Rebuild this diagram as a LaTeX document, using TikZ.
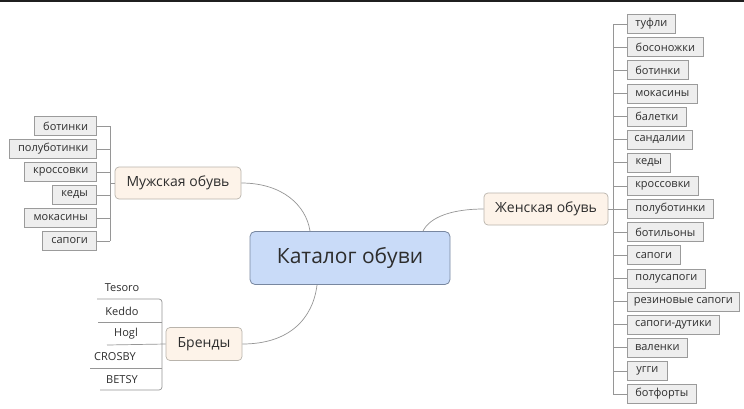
\documentclass[tikz,border=0pt]{standalone}
\usepackage{fontspec}
\setmainfont{Open Sans}
\definecolor{rootfill}{RGB}{201,219,248}
\definecolor{rootdraw}{RGB}{120,135,160}
\definecolor{topicfill}{RGB}{253,243,233}
\definecolor{topicdraw}{RGB}{185,180,172}
\definecolor{leaffill}{RGB}{238,238,238}
\definecolor{leafdraw}{RGB}{155,155,155}
\definecolor{linecol}{RGB}{150,150,150}
\definecolor{txt}{RGB}{45,45,45}
\begin{document}
\begin{tikzpicture}[x=1pt,y=-1pt,
  conn/.style={draw=linecol, line width=0.7pt},
  root/.style={draw=rootdraw, fill=rootfill, rounded corners=5pt, line width=0.8pt, minimum width=200pt, minimum height=53pt, font=\fontsize{21}{24}\selectfont, text=txt},
  topic/.style={draw=topicdraw, fill=topicfill, rounded corners=4pt, line width=0.7pt, minimum height=32pt, font=\fontsize{14}{16}\selectfont, text=txt},
  leaf/.style={draw=leafdraw, fill=leaffill, line width=0.7pt, minimum height=19pt, inner sep=0pt, font=\fontsize{11}{13}\selectfont, text=txt},
  brand/.style={inner sep=0pt, font=\fontsize{11}{13}\selectfont, text=txt}
]
\useasboundingbox (0,0) rectangle (744,408);
\fill[white] (0,0) rectangle (744,408);
\draw[line width=1.6pt, draw=black!88] (0,0.8) -- (744,0.8);

% root
\node[root] (c) at (350,258) {Каталог обуви};
\coordinate (cm) at (310,231);
\coordinate (cw) at (423,231);
\coordinate (cb) at (317,285);

% topics
\node[topic, minimum width=126pt] (m) at (178,183) {Мужская обувь};
\node[topic, minimum width=124pt] (w) at (546,209) {Женская обувь};
\node[topic, minimum width=76pt, minimum height=33pt] (b) at (204,344) {Бренды};

\draw[conn] (m.east) .. controls (282,183) and (306,205) .. (cm);
\draw[conn] (w.west) .. controls (452,209) and (430,217) .. (cw);
\draw[conn] (b.east) .. controls (290,344) and (313,318) .. (cb);

% men leaves
\foreach \n/\t/\l/\yy in {m1/ботинки/35/126, m2/полуботинки/10/149, m3/кроссовки/25/172, m4/кеды/53/195, m5/мокасины/25/218, m6/сапоги/43/241}{
  \node[leaf, minimum width={97-\l}, anchor=east] (\n) at (97,\yy) {\t};
  \draw[conn] (\n.east) -- (110,\yy);
}
\coordinate (mt) at (110,126);
\coordinate (mb) at (110,241);
\draw[conn] (mt) -- (mb);
\draw[conn] (m.west) -- (110,183);

% women leaves
\foreach \n/\t/\r [count=\i from 0] in {w1/туфли/675, w2/босоножки/703, w3/ботинки/688, w4/мокасины/697, w5/балетки/686, w6/сандалии/692, w7/кеды/670, w8/кроссовки/698, w9/полуботинки/713, w10/ботильоны/703, w11/сапоги/680, w12/полусапоги/705, w13/резиновые сапоги/739, w14/сапоги-дутики/719, w15/валенки/687, w16/угги/667, w17/ботфорты/696}{
  \pgfmathsetmacro{\yy}{24+23.125*\i}
  \node[leaf, minimum width={\r-627}, anchor=west] (\n) at (627,\yy) {\t};
  \draw[conn] (\n.west) -- (613,\yy);
}
\coordinate (wt) at (613,24);
\coordinate (wb) at (613,394);
\draw[conn] (wt) -- (wb);
\draw[conn] (w.east) -- (613,209);

% brands
\node[brand] (b1) at (122,288) {Tesoro};
\node[brand] (b2) at (122,311) {Keddo};
\node[brand] (b3) at (126,334) {Hogl};
\node[brand] (b4) at (115,357) {CROSBY};
\node[brand] (b5) at (122,380) {BETSY};
\draw[conn, rounded corners=3pt] (97,299) -- (162,299) -- (162,390) -- (100,390);
\draw[conn] (98,322) -- (162,322);
\draw[conn] (107,345) -- (b.west);
\draw[conn] (90,368) -- (162,368);
\end{tikzpicture}
\end{document}
